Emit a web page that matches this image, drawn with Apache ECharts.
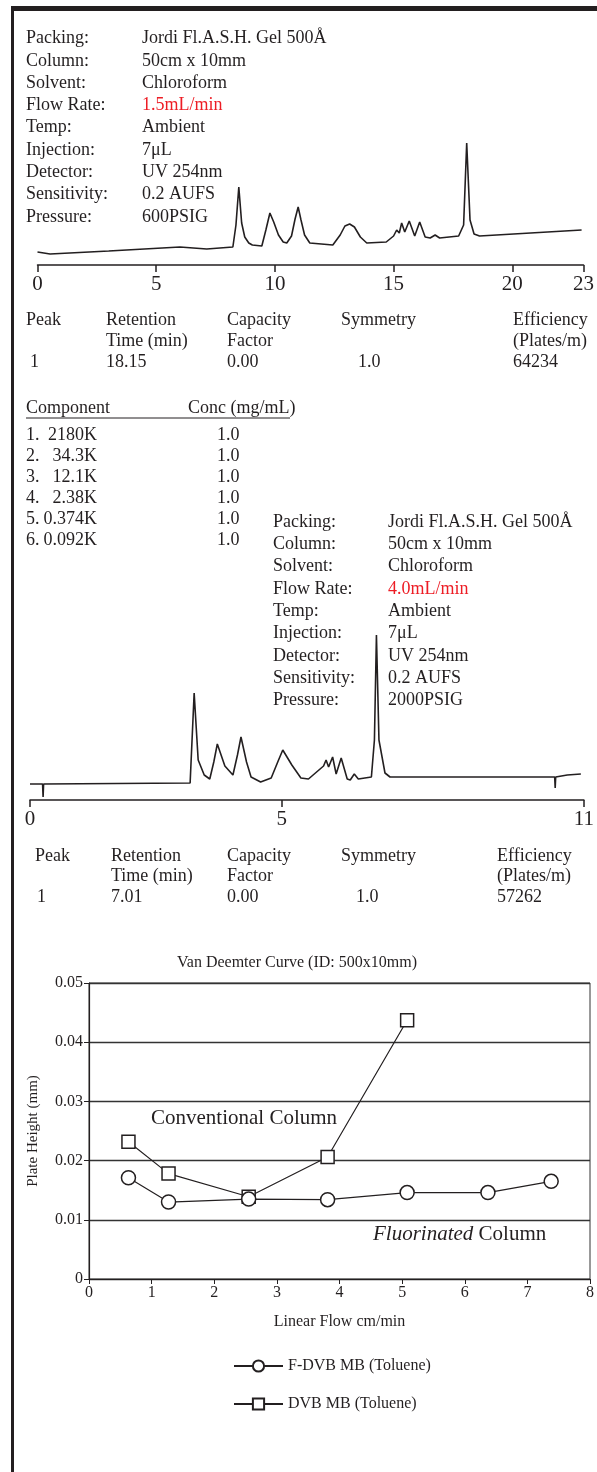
<!DOCTYPE html>
<html>
<head>
<meta charset="utf-8">
<title>Jordi Fl.A.S.H. Gel 500Å</title>
<script src="https://cdn.jsdelivr.net/npm/echarts@6.0.0/dist/echarts.min.js"></script>
<style>
  html, body { margin: 0; padding: 0; background: #fff; }
  #chart { width: 597px; height: 1472px; }
</style>
</head>
<body>
<div id="chart"></div>
<script>
const SERIF = '"Liberation Serif", "Times New Roman", serif'
const INK = '#231f20'
const RED = '#ed1c24'

// run conditions
const paramLabels = ['Packing:', 'Column:', 'Solvent:', 'Flow Rate:', 'Temp:', 'Injection:', 'Detector:', 'Sensitivity:', 'Pressure:']
const run1Params = ['Jordi Fl.A.S.H. Gel 500Å', '50cm x 10mm', 'Chloroform', '1.5mL/min', 'Ambient', '7μL', 'UV 254nm', '0.2 AUFS', '600PSIG']
const run2Params = ['Jordi Fl.A.S.H. Gel 500Å', '50cm x 10mm', 'Chloroform', '4.0mL/min', 'Ambient', '7μL', 'UV 254nm', '0.2 AUFS', '2000PSIG']

// peak tables
const tableHead = ['Peak', 'Retention', 'Capacity', 'Symmetry', 'Efficiency']
const tableHead2 = ['', 'Time (min)', 'Factor', '', '(Plates/m)']
const run1Peak = ['1', '18.15', '0.00', '1.0', '64234']
const run2Peak = ['1', '7.01', '0.00', '1.0', '57262']

// sample components
const componentNo = ['1.', '2.', '3.', '4.', '5.', '6.']
const componentMw = ['2180K', '34.3K', '12.1K', '2.38K', '0.374K', '0.092K']
const componentConc = ['1.0', '1.0', '1.0', '1.0', '1.0', '1.0']

// chromatogram 1 (1.5 mL/min), time in min, detector signal
const run1Ticks = [0, 5, 10, 15, 20, 23]
const run1Time = [0, 0.53, 3.0, 6.0, 7.13, 8.23, 8.36, 8.48, 8.6, 8.73, 8.9, 9.05, 9.45, 9.62, 9.79, 9.95, 10.15, 10.35, 10.5, 10.7, 10.85, 10.98, 11.1, 11.25, 11.47, 12.44, 12.75, 12.95, 13.15, 13.35, 13.6, 13.87, 14.69, 15.0, 15.13, 15.24, 15.34, 15.47, 15.66, 15.89, 16.1, 16.33, 16.54, 16.75, 16.94, 17.74, 17.95, 18.08, 18.22, 18.39, 18.62, 22.92]
const run1Signal = [13, 11, 14, 18, 16, 18, 40, 78, 42, 28, 22, 20, 19, 35, 52, 43, 30, 23, 22, 29, 46, 58, 45, 30, 22, 20, 30, 39, 41, 38, 28, 22, 23, 29, 35, 32, 42, 33, 44, 29, 43, 28, 27, 30, 27, 29, 40, 122, 45, 31, 29, 35]

// chromatogram 2 (4.0 mL/min)
const run2Ticks = [0, 5, 11]
const run2Time = [0, 0.25, 0.26, 0.27, 3.18, 3.26, 3.34, 3.46, 3.57, 3.65, 3.72, 3.87, 4.03, 4.12, 4.19, 4.3, 4.39, 4.58, 4.79, 4.92, 5.02, 5.2, 5.38, 5.53, 5.83, 5.88, 5.93, 6.01, 6.08, 6.18, 6.3, 6.36, 6.44, 6.52, 6.78, 6.84, 6.88, 6.93, 7.05, 7.15, 10.42, 10.43, 10.44, 10.67, 10.94]
const run2Signal = [16, 16, 3, 16, 17, 107, 40, 25, 21, 38, 56, 34, 25, 45, 63, 38, 23, 18, 22, 38, 50, 35, 22, 21, 34, 40, 33, 43, 26, 42, 21, 20, 26, 21, 23, 60, 165, 60, 27, 23, 23, 12, 23, 25, 26]

// van Deemter curve
const flowFDVB = [0.63, 1.27, 2.55, 3.81, 5.08, 6.37, 7.38]
const plateFDVB = [0.0171, 0.0130, 0.0135, 0.0134, 0.0146, 0.0146, 0.0165]
const flowDVB = [0.63, 1.27, 2.55, 3.81, 5.08]
const plateDVB = [0.0232, 0.0178, 0.0139, 0.0206, 0.0437]

const zip = (a, b) => a.map((v, i) => [v, b[i]])

function txt(x, y, text, size, opts) {
  const o = opts || {}
  return {
    type: 'text', x, y, silent: true,
    style: {
      text,
      font: `${size}px ${SERIF}`,
      fill: o.color || INK,
      align: o.align || 'left',
      verticalAlign: 'middle'
    }
  }
}

const graphics = []
// frame
graphics.push({ type: 'rect', shape: { x: 11, y: 6, width: 586, height: 5 }, style: { fill: INK }, silent: true })
graphics.push({ type: 'rect', shape: { x: 11, y: 6, width: 3, height: 1466 }, style: { fill: INK }, silent: true })

// condition blocks
paramLabels.forEach((lab, i) => {
  const y1 = 38.5 + 22.3 * i
  graphics.push(txt(26, y1, lab, 18))
  graphics.push(txt(142, y1, run1Params[i], 18, { color: i === 3 ? RED : INK }))
  const y2 = 522 + 22.3 * i
  graphics.push(txt(273, y2, lab, 18))
  graphics.push(txt(388, y2, run2Params[i], 18, { color: i === 3 ? RED : INK }))
})

// peak tables
function peakTable(headX, valX, rows, peak) {
  tableHead.forEach((h, i) => graphics.push(txt(headX[i], rows[0], h, 18)))
  tableHead2.forEach((h, i) => { if (h) graphics.push(txt(headX[i], rows[1], h, 18)) })
  peak.forEach((v, i) => graphics.push(txt(valX[i], rows[2], v, 18)))
}
peakTable([26, 106, 227, 341, 513], [30, 106, 227, 358, 513], [320, 341, 362], run1Peak)
peakTable([35, 111, 227, 341, 497], [37, 111, 227, 356, 497], [856, 876, 897], run2Peak)

// component list
graphics.push(txt(26, 408, 'Component', 18))
graphics.push(txt(188, 408, 'Conc (mg/mL)', 18))
graphics.push({ type: 'line', shape: { x1: 26, y1: 418, x2: 290, y2: 418 }, style: { stroke: INK, lineWidth: 1 }, silent: true })
componentNo.forEach((n, i) => {
  const y = 435 + 21 * i
  graphics.push(txt(26, y, n, 18))
  graphics.push(txt(97, y, componentMw[i], 18, { align: 'right' }))
  graphics.push(txt(217, y, componentConc[i], 18))
})

// van Deemter annotations
graphics.push(txt(297, 963, 'Van Deemter Curve (ID: 500x10mm)', 16, { align: 'center' }))
graphics.push(txt(151, 1118, 'Conventional Column', 21))
graphics.push({
  type: 'text', x: 373, y: 1234, silent: true,
  style: {
    text: '{it|Fluorinated}{n| Column}',
    verticalAlign: 'middle',
    rich: {
      it: { fontStyle: 'italic', fontFamily: SERIF, fontSize: 21, fill: INK },
      n: { fontFamily: SERIF, fontSize: 21, fill: INK }
    }
  }
})

const chromX = (idx, max, ticks) => ({
  gridIndex: idx, type: 'value', min: 0, max,
  axisLine: { onZero: false, lineStyle: { color: INK, width: 1.5 } },
  axisTick: { customValues: ticks, length: 7, lineStyle: { color: INK, width: 1.5 } },
  axisLabel: { customValues: ticks, margin: 9, fontFamily: SERIF, fontSize: 21, color: INK },
  splitLine: { show: false }
})

const chromLine = (idx, t, s) => ({
  type: 'line', xAxisIndex: idx, yAxisIndex: idx,
  data: zip(t, s), showSymbol: false, symbol: 'none',
  lineStyle: { color: INK, width: 1.6 }, silent: true
})

const chart = echarts.init(document.getElementById('chart'))
chart.setOption({
  animation: false,
  backgroundColor: '#fff',
  textStyle: { fontFamily: SERIF, color: INK },
  grid: [
    { left: 37.5, top: 135, width: 546.5, height: 130 },
    { left: 30, top: 630, width: 557, height: 170 },
    { left: 89, top: 983, width: 507, height: 296, show: true, borderColor: '#333', borderWidth: 1, backgroundColor: 'transparent' }
  ],
  xAxis: [
    chromX(0, 23, run1Ticks),
    chromX(1, 11, run2Ticks),
    {
      gridIndex: 2, type: 'value', min: 0, max: 8, interval: 1,
      name: 'Linear Flow cm/min', nameLocation: 'middle', nameGap: 35,
      nameTextStyle: { fontFamily: SERIF, fontSize: 16, color: INK },
      axisLine: { lineStyle: { color: INK, width: 1.2 } },
      axisTick: { length: 5, lineStyle: { color: INK } },
      axisLabel: { margin: 6, fontFamily: SERIF, fontSize: 16, color: INK },
      splitLine: { show: false }
    }
  ],
  yAxis: [
    { gridIndex: 0, type: 'value', min: 0, max: 130, show: false },
    { gridIndex: 1, type: 'value', min: 0, max: 170, show: false },
    {
      gridIndex: 2, type: 'value', min: 0, max: 0.05, interval: 0.01,
      name: 'Plate Height (mm)', nameLocation: 'middle', nameGap: 48, nameRotate: 90,
      nameTextStyle: { fontFamily: SERIF, fontSize: 15, color: INK },
      axisLine: { show: true, lineStyle: { color: INK, width: 1.2 } },
      axisTick: { show: true, length: 5, lineStyle: { color: INK } },
      axisLabel: { margin: 6, fontFamily: SERIF, fontSize: 16, color: INK, formatter: v => (v === 0 ? '0' : v.toFixed(2)) },
      splitLine: { lineStyle: { color: '#333', width: 1.3 } }
    }
  ],
  legend: {
    data: ['F-DVB MB (Toluene)', 'DVB MB (Toluene)'],
    orient: 'vertical', left: 228, top: 1353,
    itemWidth: 49, itemHeight: 14, itemGap: 22,
    selectedMode: false,
    textStyle: { fontFamily: SERIF, fontSize: 16, color: INK }
  },
  graphic: graphics,
  series: [
    chromLine(0, run1Time, run1Signal),
    chromLine(1, run2Time, run2Signal),
    {
      name: 'DVB MB (Toluene)', type: 'line', xAxisIndex: 2, yAxisIndex: 2,
      data: zip(flowDVB, plateDVB), symbol: 'rect', symbolSize: 13, z: 2,
      itemStyle: { color: '#fff', borderColor: INK, borderWidth: 1.5 },
      lineStyle: { color: INK, width: 1.2 }
    },
    {
      name: 'F-DVB MB (Toluene)', type: 'line', xAxisIndex: 2, yAxisIndex: 2,
      data: zip(flowFDVB, plateFDVB), symbol: 'circle', symbolSize: 14, z: 3,
      itemStyle: { color: '#fff', borderColor: INK, borderWidth: 1.5 },
      lineStyle: { color: INK, width: 1.2 }
    }
  ]
})
</script>
</body>
</html>
